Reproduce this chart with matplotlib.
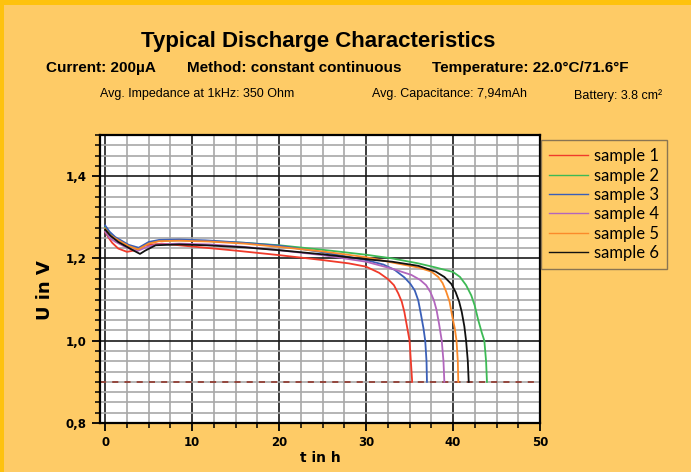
import numpy as np
import matplotlib
matplotlib.use("Agg")
import matplotlib.pyplot as plt
from matplotlib.ticker import MultipleLocator, FuncFormatter
from matplotlib.patches import Rectangle

# values (t in h, U in V)
t1 = [0, 0.4, 0.8, 1.5, 2.5, 3.5, 4.6, 6.5, 10, 15, 20, 25, 28, 30, 31.5, 32.5, 33.2, 33.7,
      34.1, 34.4, 34.7, 35.0, 35.15, 35.3]
u1 = [1.264, 1.25, 1.238, 1.224, 1.216, 1.22, 1.232, 1.236, 1.229, 1.219, 1.208, 1.196, 1.188,
      1.18, 1.165, 1.15, 1.135, 1.115, 1.095, 1.07, 1.035, 1.0, 0.95, 0.9]

t2 = [0, 0.5, 1.15, 2.7, 3.8, 5.0, 6.2, 8.5, 12, 16, 20, 25, 30, 33, 36, 38, 40, 40.8, 41.5,
      42.1, 42.5, 42.9, 43.3, 43.6, 43.8, 43.9]
u2 = [1.276, 1.262, 1.25, 1.23, 1.223, 1.237, 1.243, 1.244, 1.242, 1.238, 1.232, 1.221, 1.209,
      1.2, 1.188, 1.178, 1.167, 1.155, 1.135, 1.11, 1.085, 1.05, 1.02, 1.0, 0.95, 0.9]

t3 = [0, 0.5, 1.15, 2.7, 3.85, 5.0, 6.2, 8.5, 11.5, 16, 20, 25, 30, 32, 33.3, 34.4, 35.1, 35.6,
      36.0, 36.3, 36.6, 36.8, 36.95, 37.0]
u3 = [1.28, 1.265, 1.252, 1.233, 1.226, 1.24, 1.245, 1.246, 1.244, 1.238, 1.231, 1.215, 1.196,
      1.185, 1.172, 1.154, 1.138, 1.122, 1.098, 1.065, 1.03, 1.0, 0.95, 0.9]

t4 = [0, 0.5, 1.2, 2.6, 3.7, 4.8, 6.0, 8.5, 12, 16, 20, 25, 30, 33, 35.2, 36.2, 36.9, 37.4,
      37.8, 38.1, 38.4, 38.7, 38.9, 39.0]
u4 = [1.265, 1.25, 1.24, 1.225, 1.218, 1.228, 1.234, 1.236, 1.234, 1.228, 1.22, 1.208, 1.192,
      1.175, 1.16, 1.148, 1.135, 1.118, 1.098, 1.075, 1.04, 1.0, 0.95, 0.9]

t5 = [0, 0.5, 1.2, 2.7, 3.8, 5.0, 6.2, 8.5, 12, 16, 20, 25, 30, 33, 36, 37.5, 38.3, 38.8, 39.2,
      39.6, 39.9, 40.2, 40.4, 40.55, 40.6]
u5 = [1.272, 1.258, 1.248, 1.23, 1.222, 1.236, 1.242, 1.243, 1.241, 1.236, 1.228, 1.217, 1.203,
      1.19, 1.178, 1.168, 1.155, 1.14, 1.12, 1.095, 1.06, 1.03, 1.0, 0.95, 0.9]

t6 = [0, 0.6, 1.5, 3.1, 4.0, 4.6, 5.8, 8.5, 11.5, 16, 20, 25, 30, 33, 36, 38, 39, 39.8, 40.3,
      40.7, 41.0, 41.3, 41.5, 41.7, 41.8]
u6 = [1.27, 1.255, 1.24, 1.221, 1.211, 1.219, 1.232, 1.234, 1.232, 1.227, 1.22, 1.21, 1.198,
      1.192, 1.182, 1.168, 1.155, 1.138, 1.118, 1.095, 1.07, 1.035, 1.0, 0.95, 0.9]

labels = ["sample 1", "sample 2", "sample 3", "sample 4", "sample 5", "sample 6"]
colors = ["#f03a2a", "#3dba55", "#3a5fb8", "#b266bd", "#fb8a2a", "#111111"]
cutoff = 0.9

bg = "#fecb66"
fig = plt.figure(figsize=(6.91, 4.72), dpi=100, facecolor=bg)
# yellow stripes on top and left edge
fig.patches.append(Rectangle((0, 1 - 5 / 472), 1, 5 / 472, transform=fig.transFigure,
                             facecolor="#fec20e", edgecolor="none", zorder=0))
fig.patches.append(Rectangle((0, 0), 4 / 691, 1, transform=fig.transFigure,
                             facecolor="#fec20e", edgecolor="none", zorder=0))

ax = fig.add_axes([100 / 691, 49 / 472, 440 / 691, 288 / 472])
ax.set_facecolor("white")

for t, u, c, lab in zip([t1, t2, t3, t4, t5, t6], [u1, u2, u3, u4, u5, u6], colors, labels):
    ax.plot(t, u, color=c, lw=1.3, label=lab, zorder=3, solid_joinstyle="round")

ax.axhline(cutoff, color="#8b2a1e", lw=1.1, ls=(0, (4, 4)), zorder=2)

ax.set_xlim(-0.6, 50)
ax.set_ylim(0.8, 1.5)
ax.xaxis.set_major_locator(MultipleLocator(10))
ax.xaxis.set_minor_locator(MultipleLocator(2.5))
ax.yaxis.set_major_locator(MultipleLocator(0.2))
ax.yaxis.set_minor_locator(MultipleLocator(0.025))
ax.yaxis.set_major_formatter(FuncFormatter(lambda v, p: f"{v:.1f}".replace(".", ",")))
ax.grid(which="minor", color="#a8a8a8", lw=1.2, zorder=0)
ax.grid(which="major", color="#1a1a1a", lw=1.2, zorder=1)
ax.set_axisbelow(True)
ax.tick_params(which="major", direction="out", length=6, width=1.3, labelsize=8.5)
ax.tick_params(which="minor", direction="out", length=3.5, width=1.1)
for lbl in ax.get_xticklabels() + ax.get_yticklabels():
    lbl.set_fontweight("bold")
for s in ax.spines.values():
    s.set_linewidth(1.6)

ax.set_xlabel("t in h", fontsize=10, fontweight="bold", labelpad=1)
ax.set_ylabel("U in V", fontsize=13, fontweight="bold")
ax.yaxis.set_label_coords(-0.105, 0.46)

leg = ax.legend(loc="upper left", bbox_to_anchor=(1.0 + 1 / 440, 0.983), frameon=True,
                fancybox=False, facecolor=bg, edgecolor="#8a7552", handlelength=2.3,
                labelspacing=0.2, borderpad=0.5, handletextpad=0.35, borderaxespad=0,
                prop={"family": "Lato", "size": 12})
leg.get_frame().set_linewidth(1.0)
leg.get_frame().set_alpha(1)
for h in leg.get_lines():
    h.set_linewidth(1.0)

tf = "Liberation Sans"
fig.text(318 / 691, 1 - 42 / 472, "Typical Discharge Characteristics", fontsize=16,
         fontweight="bold", family=tf, ha="center", va="center")
fig.text(46 / 691, 1 - 68 / 472, "Current: 200µA", fontsize=11, fontweight="bold", family=tf, va="center")
fig.text(187 / 691, 1 - 68 / 472, "Method: constant continuous", fontsize=11, fontweight="bold", family=tf, va="center")
fig.text(432 / 691, 1 - 68 / 472, "Temperature: 22.0°C/71.6°F", fontsize=11, fontweight="bold", family=tf, va="center")
fig.text(100 / 691, 1 - 94 / 472, "Avg. Impedance at 1kHz: 350 Ohm", fontsize=9, family=tf, va="center")
fig.text(372 / 691, 1 - 94 / 472, "Avg. Capacitance: 7,94mAh", fontsize=9, family=tf, va="center")
fig.text(574 / 691, 1 - 96 / 472, "Battery: 3.8 cm²", fontsize=9, family=tf, va="center")

fig.savefig("out.png", dpi=100, facecolor=bg)
